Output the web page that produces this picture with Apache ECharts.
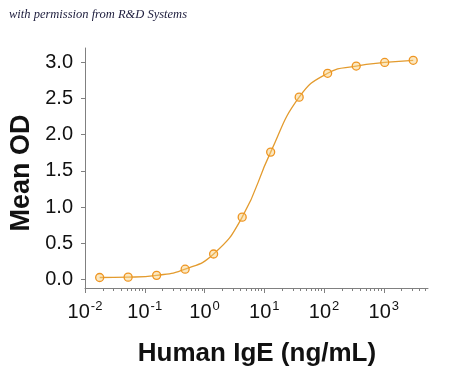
<!DOCTYPE html>
<html>
<head>
<meta charset="utf-8">
<script src="https://cdn.jsdelivr.net/npm/echarts@6/dist/echarts.min.js"></script>
<style>
html,body{margin:0;padding:0;background:#fff;}
#chart{width:450px;height:369px;}
</style>
</head>
<body>
<div id="chart"></div>
<script>
// concentrations (ng/mL), 3-fold dilution series
var concentrations = [0.0176, 0.0527, 0.158, 0.474, 1.42, 4.27, 12.8, 38.4, 115, 346, 1037, 3110];
// mean OD readings
var meanOD = [0.025, 0.03, 0.055, 0.14, 0.35, 0.86, 1.76, 2.52, 2.85, 2.95, 3.0, 3.03];
// axis ticks
var xMajorTicks = [0.01, 0.1, 1, 10, 100, 1000];
var xTickExponents = ['-2', '-1', '0', '1', '2', '3'];
var xMinorTicks = [0.02,0.03,0.04,0.05,0.06,0.07,0.08,0.09,
  0.2,0.3,0.4,0.5,0.6,0.7,0.8,0.9,
  2,3,4,5,6,7,8,9,
  20,30,40,50,60,70,80,90,
  200,300,400,500,600,700,800,900,
  2000,3000,4000,5000];
var yTicks = [0, 0.5, 1.0, 1.5, 2.0, 2.5, 3.0];
var yTickLabels = ['0.0', '0.5', '1.0', '1.5', '2.0', '2.5', '3.0'];
var xTitle = 'Human IgE (ng/mL)';
var yTitle = 'Mean OD';
var watermark = 'with permission from R&D Systems';

var axisGray = '#808080';
var chart = echarts.init(document.getElementById('chart'));
var pts = concentrations.map(function(c, i){ return [c, meanOD[i]]; });

chart.setOption({
  animation: false,
  backgroundColor: '#fff',
  grid: {left: 85, right: 22, top: 48, bottom: 81, containLabel: false},
  xAxis: [{
    type: 'log', logBase: 10, min: 0.01, max: 5500,
    axisLine: {show: true, onZero: false, lineStyle: {color: axisGray, width: 1}},
    axisTick: {show: true, length: 5, customValues: xMajorTicks, lineStyle: {color: axisGray}},
    splitLine: {show: false},
    axisLabel: {
      customValues: xMajorTicks, margin: 12,
      formatter: function(v){
        var i = xMajorTicks.findIndex(function(t){ return Math.abs(Math.log10(t) - Math.log10(v)) < 1e-6; });
        return '{b|10}{s|' + (i >= 0 ? xTickExponents[i] : '') + '}';
      },
      rich: {
        b: {fontSize: 20, fontFamily: 'Liberation Sans, Arial, sans-serif', color: '#111', verticalAlign: 'bottom'},
        s: {fontSize: 13, fontFamily: 'Liberation Sans, Arial, sans-serif', color: '#111', verticalAlign: 'bottom', padding: [0,0,9,1]}
      }
    }
  }, {
    type: 'log', logBase: 10, min: 0.01, max: 5500, position: 'bottom',
    axisLine: {show: false, onZero: false},
    axisTick: {show: true, length: 3, customValues: xMinorTicks, lineStyle: {color: axisGray}},
    axisLabel: {show: false},
    splitLine: {show: false}
  }],
  yAxis: {
    type: 'value', min: -0.12, max: 3.2,
    axisLine: {show: true, onZero: false, lineStyle: {color: axisGray, width: 1}},
    axisTick: {show: true, length: 4, customValues: yTicks, lineStyle: {color: axisGray}},
    splitLine: {show: false},
    axisLabel: {
      customValues: yTicks, margin: 12,
      formatter: function(v){
        var i = yTicks.findIndex(function(t){ return Math.abs(t - v) < 1e-9; });
        return i >= 0 ? yTickLabels[i] : '';
      },
      fontSize: 20, fontFamily: 'Liberation Sans, Arial, sans-serif', color: '#111'
    }
  },
  series: [{
    type: 'line',
    xAxisIndex: 0,
    data: pts,
    smooth: 0.5,
    symbol: 'circle',
    symbolSize: 8,
    showAllSymbol: true,
    lineStyle: {color: '#E39B2E', width: 1.3},
    itemStyle: {color: 'rgba(247,205,120,0.45)', borderColor: '#EE9522', borderWidth: 1.3}
  }],
  graphic: [{
    type: 'text', left: 9, top: 8,
    style: {text: watermark, font: 'italic 12.5px "Liberation Serif", "DejaVu Serif", serif', fill: '#1c1c3c'}
  }, {
    type: 'text', x: 22, y: 173, rotation: Math.PI/2,
    style: {text: yTitle, font: 'bold 27px "Liberation Sans", Arial, sans-serif', fill: '#111', align: 'center', verticalAlign: 'middle'}
  }, {
    type: 'text', x: 257, y: 354,
    style: {text: xTitle, font: 'bold 26px "Liberation Sans", Arial, sans-serif', fill: '#111', align: 'center', verticalAlign: 'middle'}
  }]
});
</script>
</body>
</html>
